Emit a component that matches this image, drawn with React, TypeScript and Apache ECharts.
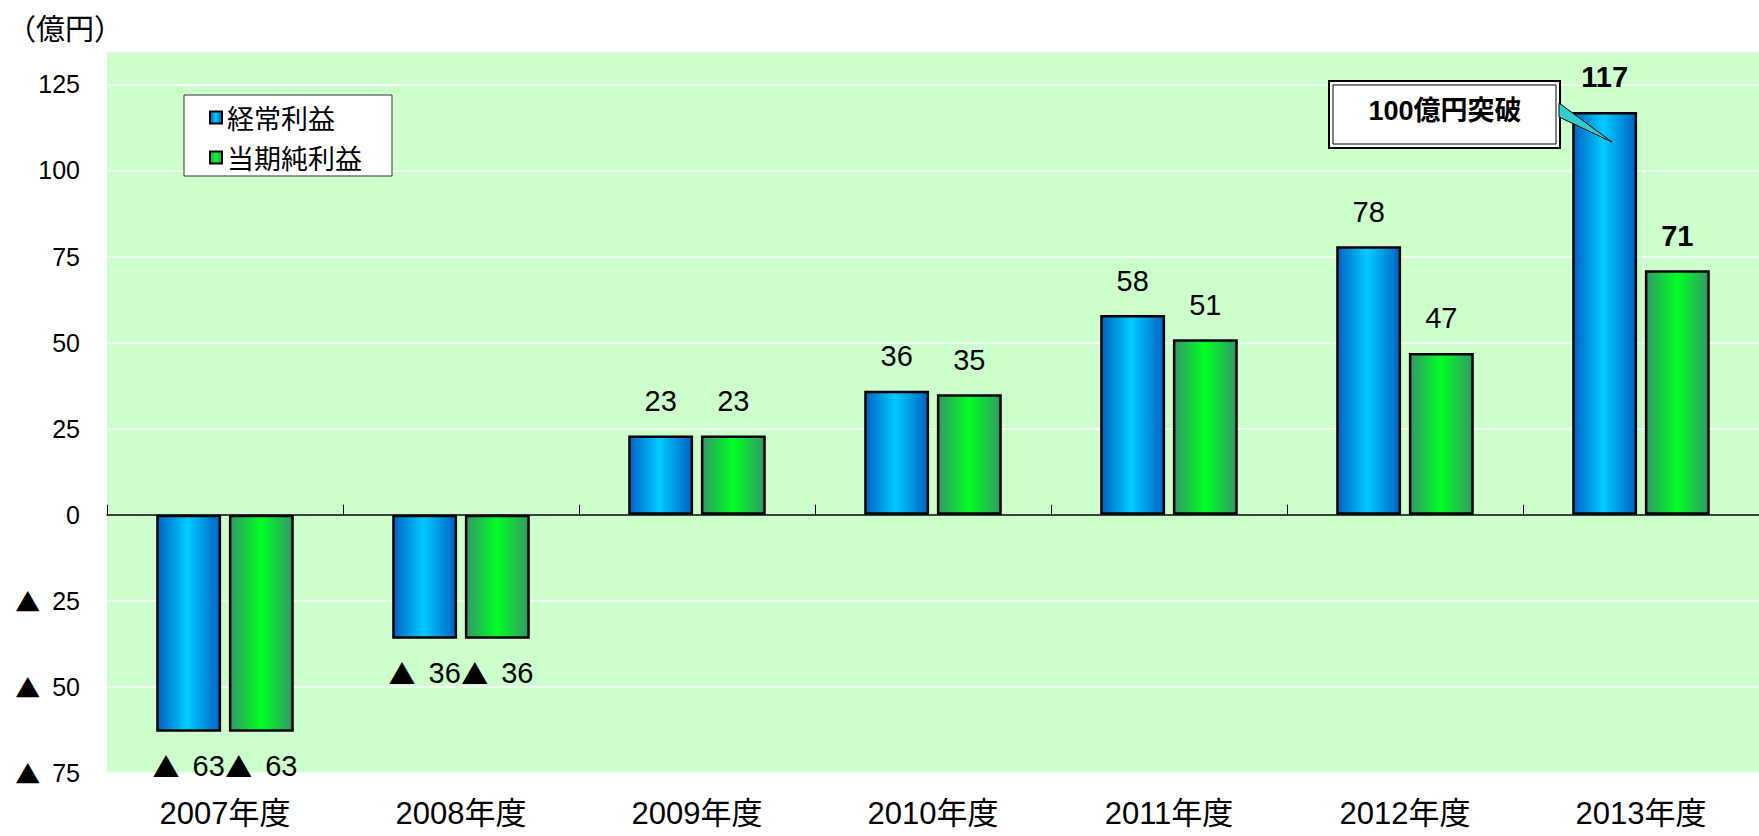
import React, { useEffect, useRef } from "react";
import * as echarts from "echarts";

const categories = ["2007年度", "2008年度", "2009年度", "2010年度", "2011年度", "2012年度", "2013年度"];
const ordinaryProfit = [-63, -36, 23, 36, 58, 78, 117];
const netProfit = [-63, -36, 23, 35, 51, 47, 71];
const boldIndex = 6;
const seriesNames = ["経常利益", "当期純利益"];
const unitLabel = "（億円）";
const calloutText = "100億円突破";

const CJK = "'Noto Sans CJK JP'";
const NUM_FONT = `'Liberation Sans', ${CJK}, sans-serif`;
const JPFONT = `${CJK}, sans-serif`;

function fmtRich(v: number): string {
  return v < 0 ? "{t|▲} " + Math.abs(v) : String(v);
}

export default function App() {
  const ref = useRef<HTMLDivElement>(null);
  useEffect(() => {
    if (!ref.current) return;
    const chart = echarts.init(ref.current, null, { renderer: "svg" });
    const blue = new echarts.graphic.LinearGradient(0, 0, 1, 0, [
      { offset: 0, color: "#0062C4" },
      { offset: 0.48, color: "#00CCFF" },
      { offset: 1, color: "#0062C4" },
    ]);
    const green = new echarts.graphic.LinearGradient(0, 0, 1, 0, [
      { offset: 0, color: "#339966" },
      { offset: 0.5, color: "#00FF22" },
      { offset: 1, color: "#339966" },
    ]);
    const toData = (values: number[]) =>
      values.map((v, i) => ({
        value: v,
        label: {
          position: v < 0 ? "bottom" : "top",
          fontWeight: i === boldIndex ? "bold" : "normal",
        },
      }));
    const labelCommon = {
      show: true,
      color: "#000",
      fontSize: 29,
      fontFamily: NUM_FONT,
      distance: 20,
      formatter: (p: any) => fmtRich(p.value),
      rich: {
        t: { fontFamily: JPFONT, fontSize: 27, color: "#000", padding: [0, 5, 0, 0] },
      },
    };
    chart.setOption({
      animation: false,
      backgroundColor: "#fff",
      textStyle: { fontFamily: JPFONT },
      title: {
        text: unitLabel,
        left: 2,
        top: 7,
        textStyle: { fontSize: 29, fontWeight: "normal", color: "#000", fontFamily: JPFONT },
      },
      legend: {
        data: seriesNames,
        orient: "vertical",
        left: 184,
        top: 95,
        backgroundColor: "#fff",
        borderColor: "#333",
        borderWidth: 1,
        padding: [9, 30, 5, 25],
        itemGap: 13,
        itemWidth: 12,
        itemHeight: 12,
        icon: "rect",
        itemStyle: { borderColor: "#000", borderWidth: 2 },
        textStyle: { fontSize: 27, color: "#000", fontFamily: JPFONT },
      },
      grid: {
        left: 107,
        right: 0,
        top: 51,
        bottom: 63,
        show: true,
        backgroundColor: "#CCFFCC",
        borderWidth: 0,
      },
      xAxis: [
        {
          type: "category",
          data: categories,
          axisLine: { show: true, onZero: true, lineStyle: { color: "#000", width: 1.5 } },
          axisTick: { show: true, inside: true, length: 10, lineStyle: { color: "#000" } },
          axisLabel: { show: false },
          splitLine: { show: false },
        },
        {
          type: "category",
          data: categories,
          position: "bottom",
          axisLine: { show: false, onZero: false },
          axisTick: { show: false },
          axisLabel: { show: true, color: "#000", fontSize: 31, margin: 25, fontFamily: NUM_FONT },
          splitLine: { show: false },
        },
      ],
      yAxis: {
        type: "value",
        min: -75,
        max: 134.7,
        interval: 25,
        axisLine: { show: false },
        axisTick: { show: false },
        axisLabel: {
          color: "#000",
          fontSize: 25,
          margin: 27,
          fontFamily: NUM_FONT,
          formatter: (v: number) => (Math.abs(v % 25) > 0.01 ? "" : fmtRich(v)),
          rich: {
            t: { fontFamily: JPFONT, fontSize: 25, color: "#000", padding: [0, 5, 0, 0] },
          },
        },
        splitLine: { show: true, lineStyle: { color: "#fff", width: 1.5 } },
      },
      series: [
        {
          name: seriesNames[0],
          type: "bar",
          xAxisIndex: 0,
          barWidth: "27.5%",
          barGap: "12%",
          data: toData(ordinaryProfit),
          itemStyle: { color: blue, borderColor: "#000", borderWidth: 2.5 },
          label: labelCommon,
        },
        {
          name: seriesNames[1],
          type: "bar",
          xAxisIndex: 0,
          barWidth: "27.5%",
          barGap: "12%",
          data: toData(netProfit),
          itemStyle: { color: green, borderColor: "#000", borderWidth: 2.5 },
          label: labelCommon,
        },
      ],
      graphic: [
        {
          type: "rect",
          z: 100,
          shape: { x: 1329, y: 81, width: 231, height: 67 },
          style: { fill: "#fff", stroke: "#000", lineWidth: 2 },
        },
        {
          type: "rect",
          z: 101,
          shape: { x: 1333, y: 85, width: 223, height: 59 },
          style: { fill: "#fff", stroke: "#000", lineWidth: 1 },
        },
        {
          type: "polygon",
          z: 102,
          shape: { points: [[1559, 103], [1559, 117], [1612, 142]] },
          style: { fill: "#33CCCC", stroke: "#000", lineWidth: 1 },
        },
        {
          type: "text",
          z: 103,
          x: 1445,
          y: 111,
          style: {
            text: calloutText,
            fontSize: 27,
            fontWeight: "bold",
            fontFamily: NUM_FONT,
            fill: "#000",
            align: "center",
            verticalAlign: "middle",
          },
        },
      ],
    });
    return () => chart.dispose();
  }, []);
  return <div ref={ref} style={{ width: 1759, height: 836, position: "absolute", left: 0, top: 0 }} />;
}
